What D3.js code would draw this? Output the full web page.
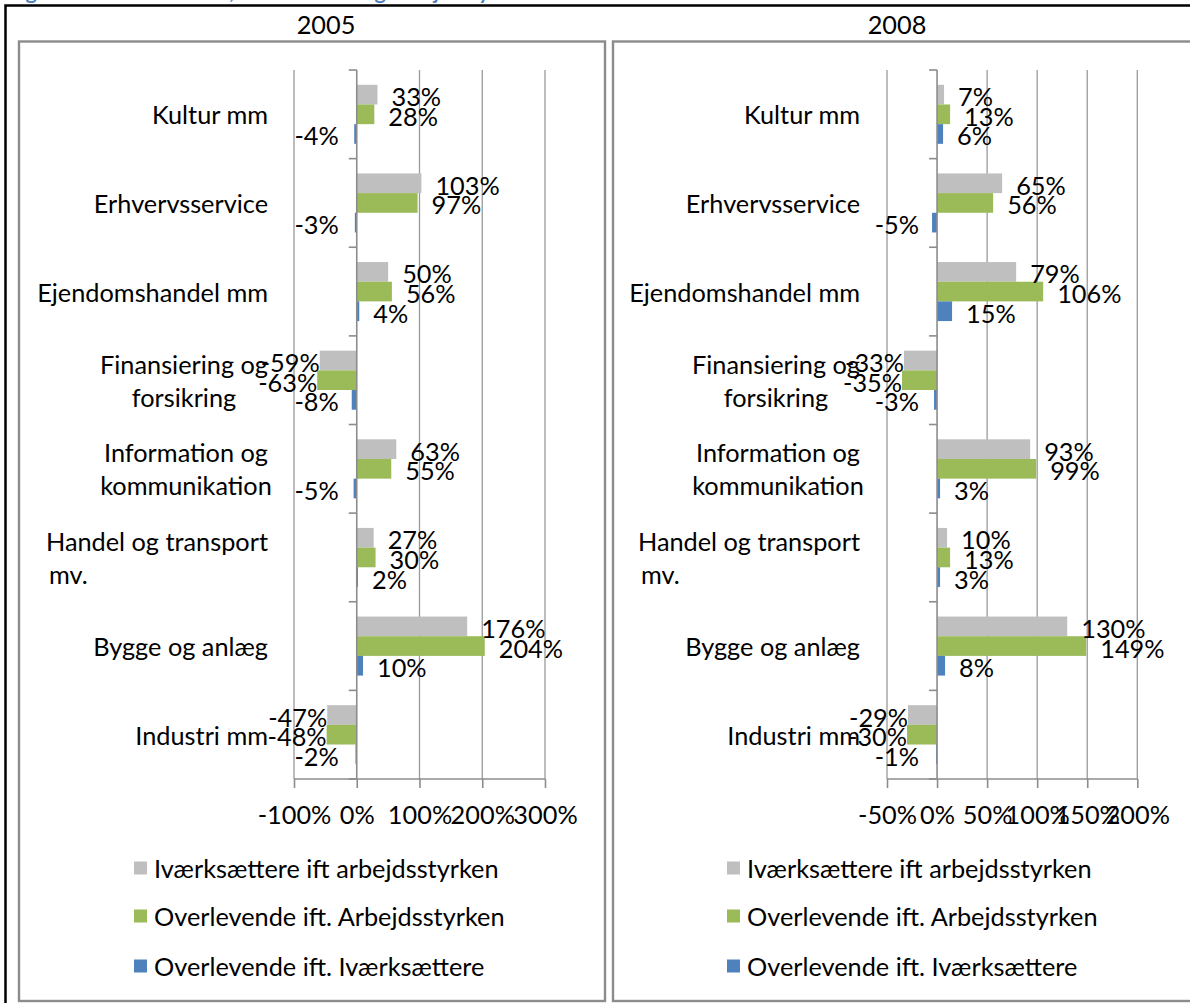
<!DOCTYPE html>
<html><head><meta charset="utf-8">
<script src="https://cdn.jsdelivr.net/npm/d3@7"></script>
<style>
html,body{margin:0;padding:0;background:#fff;}
svg{display:block;}
text{font-family:Lato,"Open Sans",sans-serif;fill:#000;}
</style></head>
<body>
<svg id="c" width="1190" height="1003"></svg>
<script>
const categories = ["Kultur mm","Erhvervsservice","Ejendomshandel mm","Finansiering og\nforsikring","Information og\nkommunikation","Handel og transport\nmv.","Bygge og anlæg","Industri mm"];
const seriesNames = ["Iværksættere ift arbejdsstyrken","Overlevende ift. Arbejdsstyrken","Overlevende ift. Iværksættere"];
const seriesColors = ["#bfbfbf","#9bbb59","#4f81bd"];
const years = ["2005","2008"];
const ivaerksaettere2005 = [33,103,50,-59,63,27,176,-47];
const overlevendeArb2005 = [28,97,56,-63,55,30,204,-48];
const overlevendeIv2005 = [-4,-3,4,-8,-5,2,10,-2];
const ivaerksaettere2008 = [7,65,79,-33,93,10,130,-29];
const overlevendeArb2008 = [13,56,106,-35,99,13,149,-30];
const overlevendeIv2008 = [6,-5,15,-3,3,3,8,-1];
const ticks2005 = [-100,0,100,200,300];
const ticks2008 = [-50,0,50,100,150,200];

const svg = d3.select("#c");

const probe = svg.append("text").attr("font-size",100).text(seriesNames[0]);
const w100 = probe.node().getComputedTextLength();
probe.remove();
const FS = Math.round(344/w100*100*10)/10;

// caption (cut off at top edge of the picture)
svg.append("text").attr("x",8).attr("y",-1.5).attr("font-size",FS*0.85).attr("font-weight","bold")
  .style("fill","#4f81bd").text("Figur 4.3: Iværksættere, overlevende og arbejdsstyrken");

// outer black frame
svg.append("path").attr("d","M5.5,1003 V5.5 H1190").attr("fill","none").attr("stroke","#000").attr("stroke-width",2.5);

const panels = [
  {year:years[0], series:[ivaerksaettere2005,overlevendeArb2005,overlevendeIv2005], ticks:ticks2005,
   left:19, domain:[-100,300], range:[294,545], titleX:326, catX:268, legX:134},
  {year:years[1], series:[ivaerksaettere2008,overlevendeArb2008,overlevendeIv2008], ticks:ticks2008,
   left:613, domain:[-50,200], range:[887,1137.3], titleX:897, catX:860, legX:727}
];

const y = d3.scaleBand().domain(categories).range([70,779]).paddingInner(0).paddingOuter(0);
const ySub = d3.scaleBand().domain(d3.range(3)).range([14.8, y.bandwidth()-14.8]).padding(0);

panels.forEach(p => {
  const g = svg.append("g");
  g.append("rect").attr("x",p.left).attr("y",41.5).attr("width",586).attr("height",959.5)
    .attr("fill","none").attr("stroke","#8c8c8c").attr("stroke-width",2.4);
  g.append("text").attr("x",p.titleX).attr("y",34).attr("text-anchor","middle").attr("font-size",FS).text(p.year);

  const x = d3.scaleLinear().domain(p.domain).range(p.range);
  const x0 = x(0);

  g.selectAll(".grid").data(p.ticks.filter(t=>t!==0)).join("line")
    .attr("x1",d=>x(d)).attr("x2",d=>x(d)).attr("y1",70).attr("y2",779)
    .attr("stroke","#9a9a9a").attr("stroke-width",1.3);

  const xAxis = d3.axisBottom(x).tickValues(p.ticks).tickSize(9).tickPadding(14).tickFormat(d=>d+"%");
  const ax = g.append("g").attr("transform","translate(0,779)").call(xAxis);
  ax.select(".domain").attr("stroke","#8c8c8c").attr("stroke-width",1.6).attr("d",`M${p.range[0]},0H${p.range[1]}`);
  ax.selectAll(".tick line").attr("stroke","#8c8c8c").attr("stroke-width",1.6);
  ax.selectAll(".tick text").attr("font-size",FS).attr("font-family","Lato").attr("fill","#000").attr("dy","0.85em");

  p.series.forEach((vals,si) => {
    g.selectAll(".bar"+si).data(vals).join("rect")
      .attr("x",d=>Math.min(x(d),x0)).attr("width",d=>Math.abs(x(d)-x0))
      .attr("y",(d,i)=>y(categories[i])+ySub(si)).attr("height",ySub.bandwidth())
      .attr("fill",seriesColors[si]);
  });

  g.append("line").attr("x1",x0).attr("x2",x0).attr("y1",70).attr("y2",779).attr("stroke","#8c8c8c").attr("stroke-width",1.6);
  const bounds = categories.map(c=>y(c)).concat([779]);
  g.selectAll(".ctick").data(bounds).join("line")
    .attr("x1",x0-8).attr("x2",x0).attr("y1",d=>d).attr("y2",d=>d).attr("stroke","#8c8c8c").attr("stroke-width",1.6);

  p.series.forEach((vals,si) => {
    g.selectAll(".lab"+si).data(vals).join("text")
      .attr("x",d=> d>=0 ? x(d)+14 : (si===2 ? x0-18 : x(d)))
      .attr("text-anchor",d=> d>=0 ? "start":"end")
      .attr("y",(d,i)=>y(categories[i])+ySub(si)+ySub.bandwidth()/2+1.5)
      .attr("dominant-baseline","central")
      .attr("font-size",FS).text(d=>d+"%");
  });

  categories.forEach(c => {
    const lines = c.split("\n");
    const cy = y(c)+y.bandwidth()/2;
    if (lines.length===1) {
      g.append("text").attr("x",p.catX).attr("y",cy).attr("dominant-baseline","central")
        .attr("text-anchor","end").attr("font-size",FS).text(c);
    } else {
      const t1 = g.append("text").attr("font-size",FS).text(lines[0]);
      const w1 = t1.node().getComputedTextLength();
      t1.remove();
      const blockLeft = p.catX - w1, blockMid = p.catX - w1/2;
      lines.forEach((ln,li) => {
        const short = li>0 && ln.length<5;
        g.append("text").attr("x", short ? blockLeft+3 : blockMid)
          .attr("text-anchor", short ? "start":"middle")
          .attr("y", cy + (li-0.5)*33).attr("dominant-baseline","central")
          .attr("font-size",FS).text(ln);
      });
    }
  });

  const ly = [868,916,966];
  seriesNames.forEach((s,si) => {
    g.append("rect").attr("x",p.legX).attr("y",ly[si]-6.5).attr("width",13).attr("height",13).attr("fill",seriesColors[si]);
    g.append("text").attr("x",p.legX+20).attr("y",ly[si]).attr("dominant-baseline","central").attr("font-size",FS).text(s);
  });
});
</script>
</body></html>
